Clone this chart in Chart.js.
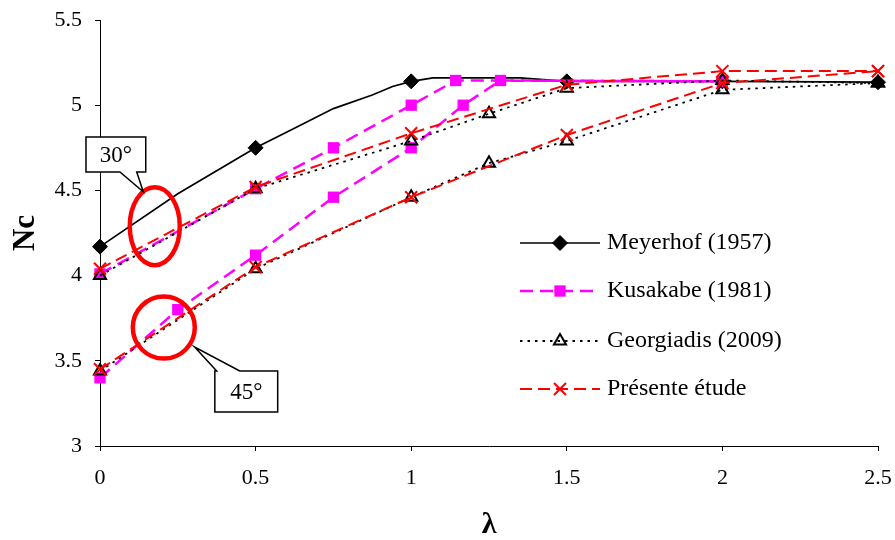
<!DOCTYPE html>
<html><head><meta charset="utf-8">
<script src="https://cdn.jsdelivr.net/npm/chart.js@4/dist/chart.umd.min.js"></script>
<style>html,body{margin:0;padding:0;background:#fff}#wrap{width:895px;height:540px}</style>
</head><body><div id="wrap"><canvas id="c" width="895" height="540"></canvas></div>
<script>
// ---- data ----
const xTickLabels = ['0','0.5','1','1.5','2','2.5'];
const yTickLabels = ['3','3.5','4','4.5','5','5.5'];
const seriesNames = ['Meyerhof (1957)','Kusakabe (1981)','Georgiadis (2009)','Présente étude'];
const angleLabels = ['30°','45°'];

const meyerhofLambda = [0,0.25,0.5,0.62,0.75,0.875,0.94,1,1.07,1.35,1.5,2,2.5];
const meyerhofNc     = [4.17,4.48,4.75,4.86,4.98,5.06,5.11,5.14,5.16,5.16,5.14,5.14,5.135];
const meyerhofMarkerLambda = [0,0.5,1,1.5,2,2.5];

const kusakabe30Lambda = [0,0.5,0.75,1,1.143,2];
const kusakabe30Nc     = [4.01,4.51,4.75,5.0,5.145,5.14];
const kusakabe45Lambda = [0,0.25,0.5,0.75,1,1.167,1.287,2];
const kusakabe45Nc     = [3.40,3.80,4.12,4.46,4.75,5.0,5.145,5.14];

const georgiadisLambda = [0,0.5,1,1.25,1.5,2,2.5];
const georgiadis30Nc   = [4.0,4.51,4.79,4.95,5.10,5.145,5.13];
const georgiadis45Nc   = [3.44,4.04,4.46,4.66,4.79,5.09,5.13];

const presenteLambda = [0,0.5,1,1.5,2,2.5];
const presente30Nc   = [4.04,4.52,4.835,5.12,5.20,5.20];
const presente45Nc   = [3.45,4.05,4.46,4.825,5.13,5.20];

// ---- styles ----
const SERIF = '"Liberation Serif","Times New Roman",serif';
const pts = (xs, ys) => xs.map((x, i) => ({x: x, y: ys[i]}));

const styleMeyerhof = {borderColor:'#000', borderWidth:1.7, pointStyle:'rectRot', pointBackgroundColor:'#000', pointBorderColor:'#000', pointBorderWidth:1, order:4};
const styleKusakabe = {borderColor:'#ff00ff', borderWidth:2.5, borderDash:[13,7], pointStyle:'rect', pointRadius:8, pointBackgroundColor:'#ff00ff', pointBorderColor:'#ff00ff', pointBorderWidth:0, order:3};
const styleGeorg = {borderColor:'#000', borderWidth:1.8, borderDash:[2.5,5], pointStyle:'triangle', pointRadius:7, pointBackgroundColor:'rgba(0,0,0,0)', pointBorderColor:'#000', pointBorderWidth:2, order:2};
const stylePresente = {borderColor:'#ff0000', borderWidth:2, borderDash:[12,6], pointStyle:'crossRot', pointRadius:8.5, pointBackgroundColor:'#ff0000', pointBorderColor:'#ff0000', pointBorderWidth:2, order:1};

const common = {fill:false, tension:0, clip:false, showLine:true};

const datasets = [
  Object.assign({}, common, styleMeyerhof, {label:seriesNames[0], data:pts(meyerhofLambda, meyerhofNc),
    pointRadius: c => (c.raw && meyerhofMarkerLambda.includes(c.raw.x)) ? 7.5 : 0, legendRow:0}),
  Object.assign({}, common, styleKusakabe, {label:seriesNames[1], data:pts(kusakabe30Lambda, kusakabe30Nc), legendRow:1}),
  Object.assign({}, common, styleKusakabe, {label:seriesNames[1], data:pts(kusakabe45Lambda, kusakabe45Nc)}),
  Object.assign({}, common, styleGeorg, {label:seriesNames[2], data:pts(georgiadisLambda, georgiadis30Nc), legendRow:2}),
  Object.assign({}, common, styleGeorg, {label:seriesNames[2], data:pts(georgiadisLambda, georgiadis45Nc)}),
  Object.assign({}, common, stylePresente, {label:seriesNames[3], data:pts(presenteLambda, presente30Nc), legendRow:3}),
  Object.assign({}, common, stylePresente, {label:seriesNames[3], data:pts(presenteLambda, presente45Nc)})
];

// annotation placement (data units for anchors, pixels for sizes)
const annot = {
  ell30: {x:0.176, y:4.29, rx:25, ry:39},
  box30: {x1:-0.045, x2:0.147, y1:4.813, y2:4.608, tipX:0.139, tipY:4.492, b1:0.064, b2:0.118},
  circ45: {x:0.205, y:3.695, r:31},
  box45: {x1:0.369, x2:0.571, y1:3.44, y2:3.20, tipX:0.304, tipY:3.581, b1:0.375, b2:0.449}
};

function drawMarker(ctx, st, x, y, r) {
  ctx.save();
  ctx.setLineDash([]);
  ctx.fillStyle = st.pointBackgroundColor;
  ctx.strokeStyle = st.pointBorderColor;
  ctx.lineWidth = st.pointBorderWidth;
  ctx.beginPath();
  if (st.pointStyle === 'rectRot') {
    ctx.moveTo(x - r, y); ctx.lineTo(x, y - r); ctx.lineTo(x + r, y); ctx.lineTo(x, y + r); ctx.closePath();
    ctx.fill(); if (st.pointBorderWidth) ctx.stroke();
  } else if (st.pointStyle === 'rect') {
    const s = r * Math.SQRT1_2; ctx.rect(x - s, y - s, 2 * s, 2 * s); ctx.fill();
  } else if (st.pointStyle === 'triangle') {
    for (let k = 0; k < 3; k++) {
      const a = k * 2 * Math.PI / 3;
      const px = x + Math.sin(a) * r, py = y - Math.cos(a) * r;
      if (k === 0) ctx.moveTo(px, py); else ctx.lineTo(px, py);
    }
    ctx.closePath(); ctx.stroke();
  } else if (st.pointStyle === 'crossRot') {
    const s = r * Math.SQRT1_2;
    ctx.moveTo(x - s, y - s); ctx.lineTo(x + s, y + s);
    ctx.moveTo(x + s, y - s); ctx.lineTo(x - s, y + s); ctx.stroke();
  }
  ctx.restore();
}

const overlay = {
  id: 'overlay',
  afterDatasetsDraw(chart) {
    const ctx = chart.ctx, xs = chart.scales.x, ys = chart.scales.y;
    const px = v => xs.getPixelForValue(v), py = v => ys.getPixelForValue(v);
    ctx.save();
    ctx.setLineDash([]);
    // red ellipses
    ctx.strokeStyle = '#ff0000'; ctx.lineWidth = 4.5;
    ctx.beginPath(); ctx.ellipse(px(annot.ell30.x), py(annot.ell30.y), annot.ell30.rx, annot.ell30.ry, 0, 0, Math.PI * 2); ctx.stroke();
    ctx.beginPath(); ctx.arc(px(annot.circ45.x), py(annot.circ45.y), annot.circ45.r, 0, Math.PI * 2); ctx.stroke();
    // callouts
    const callout = (b, text, pointerOnTop) => {
      const l = px(b.x1), r = px(b.x2), t = py(b.y1), btm = py(b.y2);
      ctx.fillStyle = '#fff'; ctx.strokeStyle = '#000'; ctx.lineWidth = 1.5;
      ctx.beginPath();
      ctx.moveTo(l, t);
      if (pointerOnTop) {
        ctx.lineTo(px(b.b1), t); ctx.lineTo(px(b.tipX), py(b.tipY)); ctx.lineTo(px(b.b2), t);
      }
      ctx.lineTo(r, t); ctx.lineTo(r, btm);
      if (!pointerOnTop) {
        ctx.lineTo(px(b.b2), btm); ctx.lineTo(px(b.tipX), py(b.tipY)); ctx.lineTo(px(b.b1), btm);
      }
      ctx.lineTo(l, btm); ctx.closePath();
      ctx.fill(); ctx.stroke();
      ctx.fillStyle = '#000'; ctx.font = '23px ' + SERIF; ctx.textAlign = 'center'; ctx.textBaseline = 'middle';
      ctx.fillText(text, (l + r) / 2, (t + btm) / 2 + 1);
    };
    callout(annot.box30, angleLabels[0], false);
    callout(annot.box45, angleLabels[1], true);

    // legend
    const ca = chart.chartArea;
    const lx0 = ca.left + 420, lx1 = ca.left + 500, mx = ca.left + 460, tx = ca.left + 507;
    const rowY = [243, 291, 341, 389];
    chart.data.datasets.forEach(ds => {
      if (ds.legendRow === undefined) return;
      const y = rowY[ds.legendRow];
      ctx.save();
      ctx.strokeStyle = ds.borderColor; ctx.lineWidth = ds.borderWidth;
      ctx.setLineDash(ds.borderDash || []);
      ctx.beginPath(); ctx.moveTo(lx0, y); ctx.lineTo(lx1, y); ctx.stroke();
      ctx.restore();
      const r = typeof ds.pointRadius === 'number' ? ds.pointRadius : 7.5;
      drawMarker(ctx, ds, mx, y, r);
      ctx.fillStyle = '#000'; ctx.font = '24px ' + SERIF; ctx.textAlign = 'left'; ctx.textBaseline = 'middle';
      ctx.fillText(ds.label, tx, y);
    });
    ctx.restore();
  }
};

const axisCommon = {
  grid: {display:true, drawOnChartArea:false, drawTicks:true, tickLength:5, color:'#000', lineWidth:1},
  border: {display:true, color:'#000', width:1}
};
const zeroPad = s => { s.paddingTop = 0; s.paddingBottom = 0; s.paddingLeft = 0; s.paddingRight = 0; };

new Chart(document.getElementById('c'), {
  type: 'line',
  data: {datasets: datasets},
  options: {
    responsive:false, animation:false, devicePixelRatio:1,
    layout: {padding:{left:0, right:17, top:20, bottom:0}},
    plugins: {legend:{display:false}, tooltip:{enabled:false}},
    scales: {
      x: Object.assign({}, axisCommon, {
        type:'linear', min:0, max:2.5,
        ticks:{stepSize:0.5, color:'#000', padding:14, font:{family:SERIF, size:22}, maxRotation:0,
          callback:(v, i) => xTickLabels[i]},
        title:{display:true, text:'λ', color:'#000', font:{family:SERIF, size:30, weight:'bold', lineHeight:1}, padding:{top:0, bottom:0}},
        afterFit: s => { s.height = 94; zeroPad(s); }
      }),
      y: Object.assign({}, axisCommon, {
        type:'linear', min:3, max:5.5,
        ticks:{stepSize:0.5, color:'#000', padding:13, font:{family:SERIF, size:22},
          callback:(v, i) => yTickLabels[i]},
        title:{display:true, text:'Nc', color:'#000', font:{family:SERIF, size:31, weight:'bold', lineHeight:1}, padding:{top:10, bottom:0}},
        afterFit: s => { s.width = 100; zeroPad(s); }
      })
    }
  },
  plugins: [overlay]
});
</script>
</body></html>
